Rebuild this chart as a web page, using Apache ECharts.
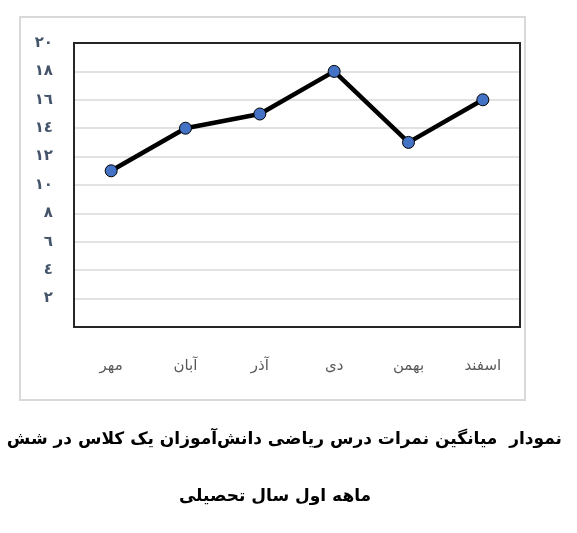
<!DOCTYPE html>
<html>
<head>
<meta charset="utf-8">
<script src="https://cdn.jsdelivr.net/npm/echarts@6/dist/echarts.min.js"></script>
<style>html,body{margin:0;padding:0;background:#fff}#c{width:577px;height:533px}</style>
</head>
<body>
<div id="c"></div>
<script>
var months = ['مهر', 'آبان', 'آذر', 'دی', 'بهمن', 'اسفند'];
var scores = [11, 14, 15, 18, 13, 16];
var titleLine1 = 'نمودار  میانگین نمرات درس ریاضی دانش\u200cآموزان یک کلاس در شش';
var titleLine2 = 'ماهه اول سال تحصیلی';

function toArabicDigits(v) {
  return String(v).replace(/[0-9]/g, function (d) { return String.fromCharCode(0x0660 + (+d)); });
}

var chart = echarts.init(document.getElementById('c'), null, {renderer: 'canvas'});
chart.setOption({
  animation: false,
  backgroundColor: '#fff',
  grid: {left: 74, right: 57, top: 43, bottom: 206},
  xAxis: {
    type: 'category',
    data: months,
    boundaryGap: true,
    axisLine: {show: false},
    axisTick: {show: false},
    splitLine: {show: false},
    axisLabel: {color: '#595959', fontSize: 15, fontFamily: 'DejaVu Sans', margin: 32}
  },
  yAxis: {
    type: 'value',
    min: 0, max: 20, interval: 2,
    axisLine: {show: false},
    axisTick: {show: false},
    splitLine: {lineStyle: {color: '#d9d9d9', width: 1.5}},
    axisLabel: {
      color: '#44546a', fontSize: 15, fontWeight: 'bold', fontFamily: 'DejaVu Sans', margin: 21,
      formatter: function (v) { return v === 0 ? '' : toArabicDigits(v); }
    }
  },
  series: [{
    type: 'line',
    data: scores,
    z: 5,
    lineStyle: {color: '#000', width: 4.5},
    symbol: 'circle',
    symbolSize: 12,
    itemStyle: {color: '#4472c4', borderColor: '#000', borderWidth: 1}
  }],
  graphic: [
    {type: 'rect', z: 1, shape: {x: 20, y: 17, width: 505, height: 383}, style: {fill: 'none', stroke: '#d9d9d9', lineWidth: 2}, silent: true},
    {type: 'rect', z: 3, shape: {x: 74, y: 43, width: 446, height: 284}, style: {fill: 'none', stroke: '#262626', lineWidth: 2}, silent: true},
    {type: 'text', x: 562, y: 440, style: {text: titleLine1, fill: '#000', font: 'bold 17px "DejaVu Sans"', textAlign: 'right', textVerticalAlign: 'middle'}},
    {type: 'text', x: 275, y: 497, style: {text: titleLine2, fill: '#000', font: 'bold 17px "DejaVu Sans"', textAlign: 'center', textVerticalAlign: 'middle'}}
  ]
});
</script>
</body>
</html>
